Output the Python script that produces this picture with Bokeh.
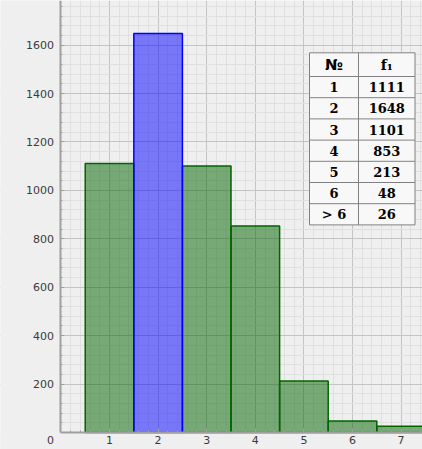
from bokeh.plotting import figure
from bokeh.models import Range1d, FixedTicker, BoxAnnotation
from bokeh.core.properties import value
from bokeh.embed import file_html
from bokeh.resources import INLINE
import numpy as np

# ---- data ----
categories = ["1", "2", "3", "4", "5", "6", "> 6"]
frequencies = [1111, 1648, 1101, 853, 213, 48, 26]
positions = [1, 2, 3, 4, 5, 6, 7]
highlight_index = 1
x_ticks = [1, 2, 3, 4, 5, 6, 7]
y_ticks = [200, 400, 600, 800, 1000, 1200, 1400, 1600]
table_header = ["№", "f₁"]

# ---- styling ----
BG = "#efefef"
W, H = 422, 449
X0, X1 = -1.243, 7.440
Y0, Y1 = -70.2, 1784.4

p = figure(width=W, height=H, x_range=Range1d(X0, X1), y_range=Range1d(Y0, Y1),
           output_backend="svg", toolbar_location=None, min_border=0,
           background_fill_color=BG, border_fill_color=BG, outline_line_color=None)

x_minor = [round(v, 2) for v in np.arange(0.2, 7.6, 0.2)]
y_minor = [int(v) for v in np.arange(40, 1800, 40)]
p.xaxis.ticker = FixedTicker(ticks=x_ticks, minor_ticks=x_minor)
p.yaxis.ticker = FixedTicker(ticks=y_ticks, minor_ticks=y_minor)

for ax in (p.xaxis, p.yaxis):
    ax.fixed_location = 0
    ax.axis_line_color = "#a0a0a0"
    ax.axis_line_width = 2
    ax.major_tick_line_color = "#a0a0a0"
    ax.minor_tick_line_color = "#a0a0a0"
    ax.major_tick_in = 4
    ax.major_tick_out = 0
    ax.minor_tick_in = 2
    ax.minor_tick_out = 0
    ax.major_label_text_font = "DejaVu Sans"
    ax.major_label_text_font_size = "11px"
    ax.major_label_text_color = "#3a3a3a"
p.xaxis.bounds = (0, X1 + 1)
p.yaxis.bounds = (0, Y1 + 100)
p.xaxis.major_label_standoff = 3
p.yaxis.major_label_standoff = 7

for g in (p.xgrid, p.ygrid):
    g.grid_line_color = "#c4c4c4"
    g.grid_line_width = 1
    g.minor_grid_line_color = "#e0e0e0"
    g.minor_grid_line_width = 1

# hide grid outside positive quadrant
p.add_layout(BoxAnnotation(top=0, fill_color=BG, fill_alpha=1, line_color=None, level="underlay"))
p.add_layout(BoxAnnotation(right=0, fill_color=BG, fill_alpha=1, line_color=None, level="underlay"))

# ---- bars ----
left = [x - 0.5 for x in positions]
right = [x + 0.5 for x in positions]
gi = [i for i in range(len(positions)) if i != highlight_index]
p.quad(left=[left[i] for i in gi], right=[right[i] for i in gi], bottom=0,
       top=[frequencies[i] for i in gi], fill_color="#006400", fill_alpha=0.5,
       line_color="#006400", line_width=1.5)
h = highlight_index
p.quad(left=[left[h]], right=[right[h]], bottom=0, top=[frequencies[h]],
       fill_color="#0000ff", fill_alpha=0.5, line_color="#0000ff", line_width=1.5)

# origin label
p.text(x=[0], y=[0], text=["0"], x_offset=-7, y_offset=3, text_align="right",
       text_baseline="top", text_font=value("DejaVu Sans"), text_font_size="11px",
       text_color="#3a3a3a")

# ---- table (screen layout converted to data coords) ----
def dx(px):
    return X0 + px / W * (X1 - X0)

def dy(py):
    return Y1 - py / H * (Y1 - Y0)

tl, tm, tr = 309.0, 358.0, 414.5
tt, th = 52.3, 76.0
rh = 21.2
nrows = len(categories)
tb = th + rh * nrows
p.quad(left=[dx(tl)], right=[dx(tr)], top=[dy(tt)], bottom=[dy(tb)],
       fill_color="#f8f8f8", line_color=None)
hy = [tt, th] + [th + rh * (i + 1) for i in range(nrows)]
p.segment(x0=[dx(tl)] * len(hy), x1=[dx(tr)] * len(hy), y0=[dy(v) for v in hy],
          y1=[dy(v) for v in hy], line_color="#808080", line_width=1)
vx = [tl, tm, tr]
p.segment(x0=[dx(v) for v in vx], x1=[dx(v) for v in vx], y0=[dy(tt)] * 3,
          y1=[dy(tb)] * 3, line_color="#808080", line_width=1)

c1, c2 = (tl + tm) / 2, (tm + tr) / 2
p.text(x=[dx(c1)], y=[dy((tt + th) / 2)], text=[table_header[0]], text_align="center",
       text_baseline="middle", text_font=value("DejaVu Sans"), text_font_style="bold",
       text_font_size="15px", text_color="#000000")
p.text(x=[dx(c2)], y=[dy((tt + th) / 2)], text=[table_header[1]], text_align="center",
       text_baseline="middle", text_font=value("DejaVu Serif"), text_font_style="bold",
       text_font_size="14px", text_color="#000000")
rows_y = [dy(th + rh * (i + 0.5)) for i in range(nrows)]
p.text(x=[dx(c1)] * nrows, y=rows_y, text=categories, text_align="center",
       text_baseline="middle", text_font=value("DejaVu Serif"), text_font_style="bold",
       text_font_size="13px", text_color="#000000")
p.text(x=[dx(c2)] * nrows, y=rows_y, text=[str(v) for v in frequencies], text_align="center",
       text_baseline="middle", text_font=value("DejaVu Serif"), text_font_style="bold",
       text_font_size="13px", text_color="#000000")

open("out.html", "w").write(file_html(p, INLINE))
